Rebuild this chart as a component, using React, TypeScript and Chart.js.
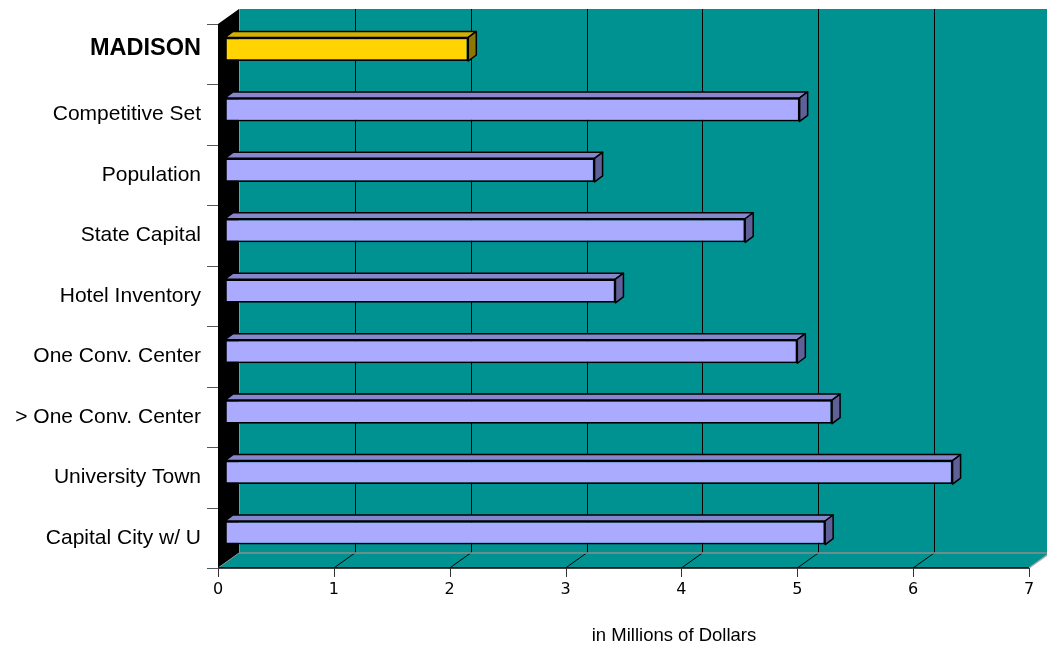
import { useEffect, useRef } from 'react';
import { Chart, registerables } from 'chart.js';

Chart.register(...registerables);

// Average spend per market group, in millions of dollars
const categories = [
  'MADISON',
  'Competitive Set',
  'Population',
  'State Capital',
  'Hotel Inventory',
  'One Conv. Center',
  '> One Conv. Center',
  'University Town',
  'Capital City w/ U',
];
const values = [2.1, 4.96, 3.19, 4.49, 3.37, 4.94, 5.24, 6.28, 5.18];
const xMin = 0;
const xMax = 7;
const xStep = 1;
const axisTitle = 'in Millions of Dollars';

// Colours
const WALL = '#009191';
const HIGHLIGHT = { front: '#FFD400', top: '#D2AF00', side: '#8C7700' };
const NORMAL = { front: '#AAAAFF', top: '#8686CC', side: '#606098' };

// 3D geometry (pixels)
const DEPTH_X = 21; // full depth of the floor / side wall
const DEPTH_Y = -15;
const BAR_PLANE_X = 7; // bars stand this far behind the front edge
const BAR_PLANE_Y = -5;
const BAR_DX = 8; // bar thickness in depth
const BAR_DY = -6;

const faceColors = (i: number) => (i === 0 ? HIGHLIGHT : NORMAL);

const noScalePadding = (s: any) => {
  s.paddingLeft = 0;
  s.paddingRight = 0;
  s.paddingTop = 0;
  s.paddingBottom = 0;
};

const scenePlugin = {
  id: 'scene3d',
  beforeDatasetsDraw(chart: any) {
    const { ctx, chartArea } = chart;
    const x = chart.scales.x;
    const y = chart.scales.y;
    const fx = (v: number) => x.getPixelForValue(v) - BAR_PLANE_X;
    const bx = (v: number) => fx(v) + DEPTH_X;
    const floorF = chartArea.bottom - BAR_PLANE_Y;
    const topF = chartArea.top - BAR_PLANE_Y;
    const floorB = floorF + DEPTH_Y;
    const topB = topF + DEPTH_Y;
    const W = chart.width;

    ctx.save();
    // back wall
    ctx.fillStyle = WALL;
    ctx.fillRect(bx(xMin), topB, W - bx(xMin), floorB - topB);
    // floor
    ctx.beginPath();
    ctx.moveTo(fx(xMin), floorF);
    ctx.lineTo(fx(xMax), floorF);
    ctx.lineTo(bx(xMax), floorB);
    ctx.lineTo(bx(xMin), floorB);
    ctx.closePath();
    ctx.fill();

    // back wall grid lines
    ctx.strokeStyle = '#000';
    ctx.lineWidth = 1;
    for (let v = xMin + xStep; v <= xMax; v += xStep) {
      const px = Math.round(bx(v)) + 0.5;
      ctx.beginPath();
      ctx.moveTo(px, topB);
      ctx.lineTo(px, floorB);
      ctx.stroke();
    }
    // floor grid lines
    for (let v = xMin + xStep; v < xMax; v += xStep) {
      ctx.beginPath();
      ctx.moveTo(fx(v), floorF);
      ctx.lineTo(bx(v), floorB);
      ctx.stroke();
    }
    // back edge of the floor
    ctx.strokeStyle = '#8E8E8E';
    ctx.lineWidth = 1.5;
    ctx.beginPath();
    ctx.moveTo(bx(xMin), floorB);
    ctx.lineTo(W, floorB);
    ctx.stroke();
    // right edge of the floor
    ctx.strokeStyle = '#A8A8A8';
    ctx.beginPath();
    ctx.moveTo(fx(xMax), floorF);
    ctx.lineTo(bx(xMax), floorB);
    ctx.stroke();

    // left side wall
    ctx.fillStyle = '#000';
    ctx.beginPath();
    ctx.moveTo(fx(xMin), topF);
    ctx.lineTo(bx(xMin), topB);
    ctx.lineTo(bx(xMin), floorB);
    ctx.lineTo(fx(xMin), floorF);
    ctx.closePath();
    ctx.fill();
    ctx.strokeStyle = '#8E8E8E';
    ctx.lineWidth = 1;
    ctx.beginPath();
    ctx.moveTo(Math.round(bx(xMin)) + 0.5, topB);
    ctx.lineTo(Math.round(bx(xMin)) + 0.5, floorB);
    ctx.stroke();
    ctx.beginPath();
    ctx.moveTo(fx(xMin), floorF);
    ctx.lineTo(bx(xMin), floorB);
    ctx.stroke();

    // front edge of the floor
    ctx.strokeStyle = '#000';
    ctx.lineWidth = 1.5;
    ctx.beginPath();
    ctx.moveTo(fx(xMin), floorF);
    ctx.lineTo(fx(xMax), floorF);
    ctx.stroke();

    // value axis tick marks
    ctx.strokeStyle = '#333';
    ctx.lineWidth = 1;
    for (let v = xMin; v <= xMax; v += xStep) {
      const px = Math.round(fx(v)) + 0.5;
      ctx.beginPath();
      ctx.moveTo(px, floorF);
      ctx.lineTo(px, floorF + 9);
      ctx.stroke();
    }
    // category axis tick marks (between categories)
    ctx.strokeStyle = '#555';
    for (let i = 0; i <= categories.length; i++) {
      const py = Math.round(y.getPixelForValue(i - 0.5) - BAR_PLANE_Y) + 0.5;
      ctx.beginPath();
      ctx.moveTo(fx(xMin) - 11, py);
      ctx.lineTo(fx(xMin), py);
      ctx.stroke();
    }
    ctx.restore();
  },
  afterDatasetsDraw(chart: any) {
    const { ctx } = chart;
    const meta = chart.getDatasetMeta(0);
    ctx.save();
    ctx.strokeStyle = '#000';
    ctx.lineWidth = 1.5;
    ctx.lineJoin = 'round';
    meta.data.forEach((el: any, i: number) => {
      const { x: xe, y: yc, base, height } = el.getProps(['x', 'y', 'base', 'height'], true);
      const top = yc - height / 2;
      const bot = yc + height / 2;
      const c = faceColors(i);
      // top face
      ctx.fillStyle = c.top;
      ctx.beginPath();
      ctx.moveTo(base, top);
      ctx.lineTo(base + BAR_DX, top + BAR_DY);
      ctx.lineTo(xe + BAR_DX, top + BAR_DY);
      ctx.lineTo(xe, top);
      ctx.closePath();
      ctx.fill();
      ctx.stroke();
      // end face
      ctx.fillStyle = c.side;
      ctx.beginPath();
      ctx.moveTo(xe, top);
      ctx.lineTo(xe + BAR_DX, top + BAR_DY);
      ctx.lineTo(xe + BAR_DX, bot + BAR_DY);
      ctx.lineTo(xe, bot);
      ctx.closePath();
      ctx.fill();
      ctx.stroke();
    });
    ctx.restore();
  },
  afterDraw(chart: any) {
    const { ctx } = chart;
    ctx.save();
    ctx.fillStyle = '#000';
    ctx.font = '18.5px "Liberation Sans", Arial, sans-serif';
    ctx.textAlign = 'center';
    ctx.textBaseline = 'middle';
    ctx.fillText(axisTitle, 674, 636);
    ctx.restore();
  },
};

export default function App() {
  const canvasRef = useRef<HTMLCanvasElement | null>(null);

  useEffect(() => {
    const canvas = canvasRef.current;
    if (!canvas) return;
    const chart = new Chart(canvas, {
      type: 'bar',
      data: {
        labels: categories,
        datasets: [
          {
            data: values,
            backgroundColor: values.map((_, i) => faceColors(i).front),
            borderColor: '#000',
            borderWidth: 1.75,
            borderSkipped: false,
            barPercentage: 0.39,
            categoryPercentage: 1,
          },
        ],
      },
      options: {
        indexAxis: 'y',
        responsive: false,
        animation: false,
        layout: { padding: { top: 19, right: 11, left: 0, bottom: 0 } },
        plugins: {
          legend: { display: false },
          tooltip: { enabled: false },
        },
        scales: {
          x: {
            type: 'linear',
            min: xMin,
            max: xMax,
            grid: { display: false, drawTicks: false },
            border: { display: false },
            ticks: {
              stepSize: xStep,
              padding: 17,
              labelOffset: -BAR_PLANE_X,
              color: '#000',
              font: { family: '"DejaVu Sans", Verdana, sans-serif', size: 16 },
            },
            afterFit: (s: any) => {
              s.height = 82;
              noScalePadding(s);
            },
          },
          y: {
            type: 'category',
            grid: { display: false, drawTicks: false },
            border: { display: false },
            ticks: {
              padding: 24,
              labelOffset: 5,
              color: '#000',
              autoSkip: false,
              callback: (_v: any, i: number) => (i === 0 ? [categories[i], ''] : categories[i]),
              font: (c: any) =>
                c.index === 0
                  ? { family: '"Liberation Sans", Arial, sans-serif', size: 23.5, weight: 'bold', lineHeight: 0.5 }
                  : { family: '"Liberation Sans", Arial, sans-serif', size: 21 },
            },
            afterFit: (s: any) => {
              s.width = 225;
              noScalePadding(s);
            },
          },
        },
      },
      plugins: [scenePlugin],
    } as any);
    return () => chart.destroy();
  }, []);

  return (
    <div style={{ position: 'absolute', left: 0, top: 0, width: 1047, height: 645, background: '#fff' }}>
      <canvas ref={canvasRef} width={1047} height={645} />
    </div>
  );
}
